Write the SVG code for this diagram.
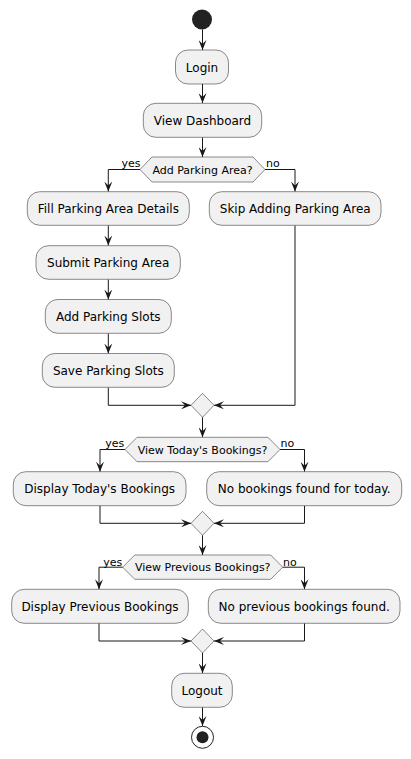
<svg xmlns="http://www.w3.org/2000/svg" width="411" height="759" viewBox="0 0 411 759">
<style>
.box{fill:#F1F1F1;stroke:#181818;stroke-width:0.5}
.t{font-family:"DejaVu Sans",sans-serif;font-size:12px;fill:#000;text-anchor:middle}
.d{font-family:"DejaVu Sans",sans-serif;font-size:11px;fill:#000;text-anchor:middle}
.l{font-family:"DejaVu Sans",sans-serif;font-size:11px;fill:#000}
.c{fill:none;stroke:#181818;stroke-width:1}
</style>
<defs>
<marker id="ah" viewBox="0 0 10 8" refX="10" refY="4" markerWidth="10" markerHeight="8" markerUnits="userSpaceOnUse" orient="auto">
<polygon points="0,0 10,4 0,8 4,4" fill="#181818"/>
</marker>
</defs>
<g id="connectors">
<path class="c" marker-end="url(#ah)" d="M202.5,29.5 L202.5,50"/>
<path class="c" marker-end="url(#ah)" d="M202.5,84 L202.5,103"/>
<path class="c" marker-end="url(#ah)" d="M202.5,137.5 L202.5,157"/>
<path class="c" marker-end="url(#ah)" d="M140,169.5 L108.3,169.5 L108.3,191.5"/>
<path class="c" marker-end="url(#ah)" d="M265,169.5 L295,169.5 L295,191.5"/>
<path class="c" marker-end="url(#ah)" d="M108.3,225.5 L108.3,245.5"/>
<path class="c" marker-end="url(#ah)" d="M108.3,279.5 L108.3,299.5"/>
<path class="c" marker-end="url(#ah)" d="M108.3,333.5 L108.3,353.5"/>
<path class="c" marker-end="url(#ah)" d="M108.3,387.5 L108.3,405.3 L191,405.3"/>
<path class="c" marker-end="url(#ah)" d="M295,225.5 L295,405.3 L214,405.3"/>
<path class="c" marker-end="url(#ah)" d="M202.5,417.3 L202.5,437.3"/>
<path class="c" marker-end="url(#ah)" d="M125,449.5 L100,449.5 L100,471.7"/>
<path class="c" marker-end="url(#ah)" d="M280,449.5 L304.5,449.5 L304.5,471.7"/>
<path class="c" marker-end="url(#ah)" d="M100,505.7 L100,523.3 L191,523.3"/>
<path class="c" marker-end="url(#ah)" d="M304.5,505.7 L304.5,523.3 L214,523.3"/>
<path class="c" marker-end="url(#ah)" d="M202.5,535.3 L202.5,555"/>
<path class="c" marker-end="url(#ah)" d="M122.7,567.2 L99,567.2 L99,589.3"/>
<path class="c" marker-end="url(#ah)" d="M282.7,567.2 L304.5,567.2 L304.5,589.3"/>
<path class="c" marker-end="url(#ah)" d="M99,623.3 L99,641 L191,641"/>
<path class="c" marker-end="url(#ah)" d="M304.5,623.3 L304.5,641 L214,641"/>
<path class="c" marker-end="url(#ah)" d="M202.5,653 L202.5,673.3"/>
<path class="c" marker-end="url(#ah)" d="M202.5,707.3 L202.5,726"/>
<text class="l" x="121.5" y="167">yes</text>
<text class="l" x="266" y="167">no</text>
<text class="l" x="105.3" y="447.3">yes</text>
<text class="l" x="280.5" y="447.3">no</text>
<text class="l" x="103.3" y="565.7">yes</text>
<text class="l" x="283" y="565.7">no</text>
</g>
<g id="start"><circle cx="202" cy="19.5" r="10" fill="#222222"/></g>
<g id="login"><rect class="box" x="175.5" y="50" width="53" height="34" rx="12.5"/><text class="t" x="202" y="71.5">Login</text></g>
<g id="dashboard"><rect class="box" x="143.3" y="103.3" width="118.4" height="34" rx="12.5"/><text class="t" x="202.5" y="124.8">View Dashboard</text></g>
<g id="dec1"><polygon class="box" points="140,169.5 152,157 253,157 265,169.5 253,182 152,182"/><text class="d" x="202.5" y="173.5">Add Parking Area?</text></g>
<g id="fill"><rect class="box" x="27.3" y="191.7" width="162" height="33.6" rx="12.5"/><text class="t" x="108.3" y="213">Fill Parking Area Details</text></g>
<g id="skip"><rect class="box" x="209.3" y="191.7" width="171.7" height="33.6" rx="12.5"/><text class="t" x="295.2" y="213">Skip Adding Parking Area</text></g>
<g id="submit"><rect class="box" x="36" y="245.7" width="144.3" height="33.6" rx="12.5"/><text class="t" x="108.2" y="267">Submit Parking Area</text></g>
<g id="addslots"><rect class="box" x="45.3" y="299.5" width="126" height="33.8" rx="12.5"/><text class="t" x="108.3" y="321">Add Parking Slots</text></g>
<g id="saveslots"><rect class="box" x="42.3" y="353.5" width="132" height="33.8" rx="12.5"/><text class="t" x="108.3" y="375">Save Parking Slots</text></g>
<g id="merge1"><polygon class="box" points="202.5,393.3 214,405.3 202.5,417.3 191,405.3"/></g>
<g id="dec2"><polygon class="box" points="125,449.5 137,437.3 268,437.3 280,449.5 268,461.7 137,461.7"/><text class="d" x="202.5" y="453.5">View Today's Bookings?</text></g>
<g id="today"><rect class="box" x="13.3" y="471.7" width="172.7" height="34" rx="12.5"/><text class="t" x="99.7" y="493.2">Display Today's Bookings</text></g>
<g id="notoday"><rect class="box" x="206.7" y="471.7" width="195" height="34" rx="12.5"/><text class="t" x="304.2" y="493.2">No bookings found for today.</text></g>
<g id="merge2"><polygon class="box" points="202.5,511.3 214,523.3 202.5,535.3 191,523.3"/></g>
<g id="dec3"><polygon class="box" points="122.7,567.2 134.7,555 270.7,555 282.7,567.2 270.7,579.3 134.7,579.3"/><text class="d" x="202.7" y="571.2">View Previous Bookings?</text></g>
<g id="prev"><rect class="box" x="11.7" y="589.3" width="176.6" height="34" rx="12.5"/><text class="t" x="100" y="610.8">Display Previous Bookings</text></g>
<g id="noprev"><rect class="box" x="208.3" y="589.3" width="191.7" height="34" rx="12.5"/><text class="t" x="304.2" y="610.8">No previous bookings found.</text></g>
<g id="merge3"><polygon class="box" points="202.5,629 214,641 202.5,653 191,641"/></g>
<g id="logout"><rect class="box" x="171.7" y="673.3" width="60.6" height="34" rx="12.5"/><text class="t" x="202" y="694.8">Logout</text></g>
<g id="end"><circle cx="202.5" cy="737.3" r="11" fill="none" stroke="#222222" stroke-width="1"/><circle cx="202.5" cy="737.3" r="6" fill="#222222"/></g>
</svg>
